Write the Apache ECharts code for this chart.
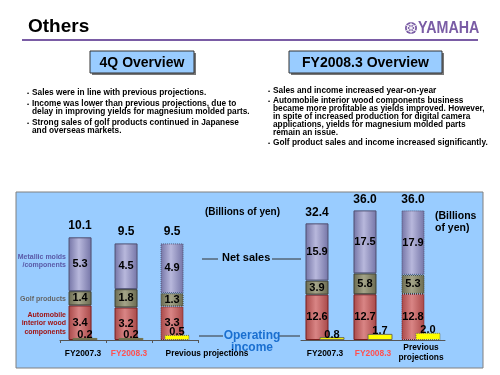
<!DOCTYPE html>
<html>
<head>
<meta charset="utf-8">
<script src="https://cdn.jsdelivr.net/npm/echarts@6/dist/echarts.min.js"></script>
<style>
html, body { margin: 0; padding: 0; background: #fff; }
#cn { width: 500px; height: 375px; }
</style>
</head>
<body>
<div id="cn"></div>
<script>
'use strict';

const FONT = '"Liberation Sans", Arial, sans-serif';

// 4Q (left chart), billions of yen
const qCategories = ['FY2007.3', 'FY2008.3', 'Previous projections'];
const qAuto = [3.4, 3.2, 3.3];
const qGolf = [1.4, 1.8, 1.3];
const qMetal = [5.3, 4.5, 4.9];
const qTotal = [10.1, 9.5, 9.5];
const qIncome = [0.2, 0.2, 0.5];

// FY2008.3 (right chart), billions of yen
const fyCategories = ['FY2007.3', 'FY2008.3', 'Previous\nprojections'];
const fyAuto = [12.6, 12.7, 12.8];
const fyGolf = [3.9, 5.8, 5.3];
const fyMetal = [15.9, 17.5, 17.9];
const fyTotal = [32.4, 36.0, 36.0];
const fyIncome = [0.8, 1.7, 2.0];

// slide texts
const qBullets = [
    ['Sales were in line with previous projections.'],
    ['Income was lower than previous projections, due to', 'delay in improving yields for magnesium molded parts.'],
    ['Strong sales of golf products continued in Japanese', 'and overseas markets.']
];
const fyBullets = [
    ['Sales and income increased year-on-year'],
    ['Automobile interior wood components business', 'became more profitable as yields improved. However,',
        'in spite of increased production for digital camera', 'applications, yields for magnesium molded parts', 'remain an issue.'],
    ['Golf product sales and income increased significantly.']
];

const cyl = (edge, mid) => new echarts.graphic.LinearGradient(0, 0, 1, 0, [
    { offset: 0, color: edge },
    { offset: 0.45, color: mid },
    { offset: 1, color: edge }
]);

// last column (projections) is drawn with a dotted outline
const dotted = arr => arr.map((v, i) => i === 2 ? { value: v, itemStyle: { borderType: 'dotted' } } : v);

const valueLabel = {
    show: true,
    color: '#000',
    fontWeight: 'bold',
    fontSize: 11,
    fontFamily: FONT,
    formatter: p => Number(p.value).toFixed(1)
};

const segment = (name, data, stack, axis, edge, mid, border) => ({
    name: name,
    type: 'bar',
    stack: stack,
    xAxisIndex: axis,
    yAxisIndex: axis,
    barWidth: 23,
    data: dotted(data),
    itemStyle: { color: cyl(edge, mid), borderColor: border, borderWidth: 1 },
    label: Object.assign({}, valueLabel, { position: 'inside' })
});

const totalLabel = (totals, stack, axis, dist) => ({
    type: 'bar',
    stack: stack,
    xAxisIndex: axis,
    yAxisIndex: axis,
    barWidth: 23,
    data: totals.map(() => 0),
    itemStyle: { color: 'transparent', borderWidth: 0 },
    label: Object.assign({}, valueLabel, {
        position: 'top',
        distance: dist,
        fontSize: 12,
        formatter: p => totals[p.dataIndex].toFixed(1)
    })
});

const income = (data, axis, gap) => ({
    name: 'Operating income',
    type: 'bar',
    xAxisIndex: axis,
    yAxisIndex: axis,
    barWidth: 25,
    barGap: gap,
    data: dotted(data),
    itemStyle: { color: '#ffff00', borderColor: '#6f6f50', borderWidth: 1 },
    label: Object.assign({}, valueLabel, { position: 'top', distance: -3 })
});

const catAxis = (grid, cats, margin, extra) => ({
    type: 'category',
    gridIndex: grid,
    data: cats.map((c, i) => {
        const ts = Object.assign({}, extra[i] || {});
        if (i === 1) ts.color = '#ff5050';
        return { value: c, textStyle: ts };
    }),
    axisLine: { lineStyle: { color: '#555', width: 1 } },
    axisTick: { show: grid === 0, length: 3, lineStyle: { color: '#555' } },
    axisLabel: {
        interval: 0,
        margin: margin,
        fontSize: 8.4,
        fontWeight: 'bold',
        fontFamily: FONT,
        color: '#000'
    }
});

// bullet text blocks
const bulletText = (blocks, x, y0, step, gap) => {
    const out = [];
    let y = y0;
    blocks.forEach(lines => {
        out.push({ type: 'text', style: { x: x - 5, y: y, text: '•', font: 'bold 6px ' + FONT, fill: '#000', textVerticalAlign: 'middle' } });
        lines.forEach(line => {
            out.push({ type: 'text', style: { x: x, y: y, text: line, font: 'bold 8.3px ' + FONT, fill: '#000', textVerticalAlign: 'middle' } });
            y += step;
        });
        y += gap;
    });
    return out;
};

const txt = (x, y, text, font, fill, align) => ({
    type: 'text',
    style: { x: x, y: y, text: text, font: font, fill: fill, textAlign: align || 'left', textVerticalAlign: 'middle', lineHeight: 10 }
});

const hline = (x1, x2, y, color) => ({
    type: 'line',
    shape: { x1: x1, y1: y, x2: x2, y2: y },
    style: { stroke: color || '#333', lineWidth: 1 }
});

const box = (x, y, w, h, label) => [
    { type: 'rect', shape: { x: x + 2, y: y + 2, width: w, height: h }, style: { fill: '#777' } },
    { type: 'rect', shape: { x: x, y: y, width: w, height: h }, style: { fill: '#99ccff', stroke: '#333', lineWidth: 1 } },
    txt(x + w / 2, y + h / 2 + 1, label, 'bold 14px ' + FONT, '#000', 'center')
];

const purple = '#7a5ca5';
const legendFont = 'bold 7px ' + FONT;

const graphics = [].concat(
    [
        // chart panel
        { type: 'rect', z: -10, shape: { x: 16, y: 192, width: 467, height: 176 }, style: { fill: '#99ccff', stroke: '#808080', lineWidth: 1 } },
        // header
        txt(28, 27, 'Others', 'bold 19px ' + FONT, '#000'),
        { type: 'line', shape: { x1: 22, y1: 40, x2: 478, y2: 40 }, style: { stroke: purple, lineWidth: 2 } },
        { type: 'circle', shape: { cx: 411, cy: 28, r: 6 }, style: { fill: purple } },
        { type: 'circle', shape: { cx: 411, cy: 28, r: 3.8 }, style: { fill: 'none', stroke: '#fff', lineWidth: 1 } },
        { type: 'line', shape: { x1: 411, y1: 22.5, x2: 411, y2: 33.5 }, style: { stroke: '#fff', lineWidth: 1 } },
        { type: 'line', shape: { x1: 406.2, y1: 25.2, x2: 415.8, y2: 30.8 }, style: { stroke: '#fff', lineWidth: 1 } },
        { type: 'line', shape: { x1: 406.2, y1: 30.8, x2: 415.8, y2: 25.2 }, style: { stroke: '#fff', lineWidth: 1 } },
        {
            type: 'text', x: 418, y: 28.5, scaleX: 0.84,
            style: { x: 0, y: 0, text: 'YAMAHA', font: 'bold 17px ' + FONT, fill: purple, textVerticalAlign: 'middle' }
        }
    ],
    box(90, 51, 104, 22, '4Q Overview'),
    box(289, 51, 153, 22, 'FY2008.3 Overview'),
    bulletText(qBullets, 32, 93, 8, 3),
    bulletText(fyBullets, 273, 91, 8, 2),
    [
        // series legend on the left
        txt(66, 257, 'Metallic molds', legendFont, '#5a5aa8', 'right'),
        txt(66, 265, '/components', legendFont, '#5a5aa8', 'right'),
        txt(66, 299, 'Golf products', legendFont, '#666', 'right'),
        txt(66, 315, 'Automobile', legendFont, '#a01515', 'right'),
        txt(66, 323.5, 'interior wood', legendFont, '#a01515', 'right'),
        txt(66, 332, 'components', legendFont, '#a01515', 'right'),
        // units
        txt(205, 212, '(Billions of yen)', 'bold 10px ' + FONT, '#000'),
        txt(435, 216, '(Billions', 'bold 10.5px ' + FONT, '#000'),
        txt(435, 228, 'of yen)', 'bold 10.5px ' + FONT, '#000'),
        // net sales callout
        hline(202, 218, 259),
        txt(222, 258, 'Net sales', 'bold 11px ' + FONT, '#000'),
        hline(272, 301, 259),
        // operating income callout
        hline(199, 223, 336),
        hline(278, 300, 336),
        txt(252, 336, 'Operating', 'bold 12px ' + FONT, '#1a6fd0', 'center'),
        txt(252, 348, 'income', 'bold 12px ' + FONT, '#1a6fd0', 'center')
    ]
);

const chart = echarts.init(document.getElementById('cn'), null, { renderer: 'canvas' });

const option = {
    animation: false,
    textStyle: { fontFamily: FONT },
    grid: [
        { left: 60, width: 138, top: 218, height: 122 },
        { left: 301, width: 144, top: 196, height: 144 }
    ],
    xAxis: [
        catAxis(0, qCategories, 10, { 2: { padding: [0, 0, 0, 64] } }),
        catAxis(1, fyCategories, 3, { 0: { lineHeight: 22 }, 1: { lineHeight: 22 }, 2: { lineHeight: 10 } })
    ],
    yAxis: [
        { type: 'value', gridIndex: 0, min: 0, max: 12, show: false, splitLine: { show: false } },
        { type: 'value', gridIndex: 1, min: 0, max: 40, show: false, splitLine: { show: false } }
    ],
    series: [
        segment('Automobile interior wood components', qAuto, 'q', 0, '#a84848', '#d98585', '#7a1e1e'),
        segment('Golf products', qGolf, 'q', 0, '#6a6a50', '#a4a488', '#3f3f30'),
        segment('Metallic molds/components', qMetal, 'q', 0, '#7474a6', '#b8b8dc', '#4f4f70'),
        totalLabel(qTotal, 'q', 0, 6),
        income(qIncome, 0, '-83%'),

        segment('Automobile interior wood components', fyAuto, 'fy', 1, '#a84848', '#d98585', '#7a1e1e'),
        segment('Golf products', fyGolf, 'fy', 1, '#6a6a50', '#a4a488', '#3f3f30'),
        segment('Metallic molds/components', fyMetal, 'fy', 1, '#7474a6', '#b8b8dc', '#4f4f70'),
        totalLabel(fyTotal, 'fy', 1, 5),
        income(fyIncome, 1, '-39%')
    ],
    graphic: graphics
};

chart.setOption(option);
</script>
</body>
</html>
